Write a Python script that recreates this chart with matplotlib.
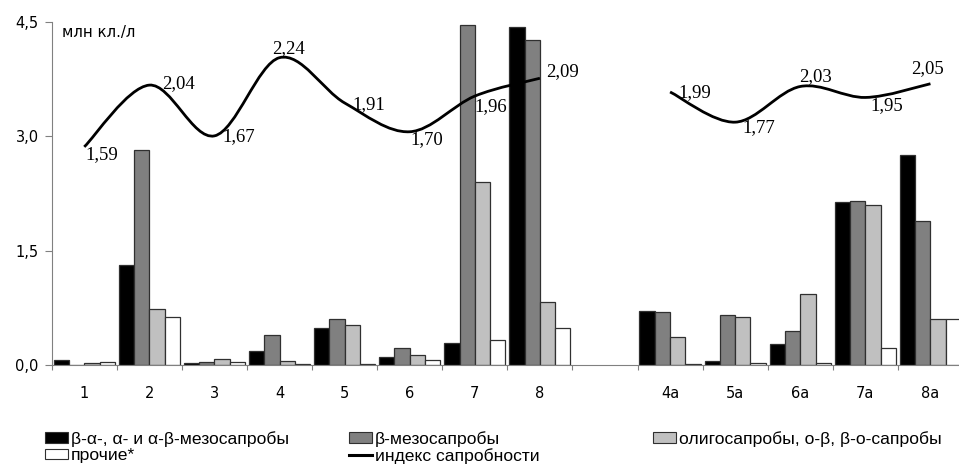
import matplotlib
matplotlib.use("Agg")
import matplotlib.pyplot as plt
from matplotlib.path import Path
from matplotlib.patches import PathPatch, Patch
from matplotlib.lines import Line2D
import numpy as np

# ---- data ----
categories = ["1", "2", "3", "4", "5", "6", "7", "8", "", "4а", "5а", "6а", "7а", "8а"]
meso_alpha = [0.07, 1.31, 0.03, 0.18, 0.49, 0.10, 0.29, 4.43, None, 0.71, 0.05, 0.28, 2.14, 2.75]
meso_beta = [0.00, 2.82, 0.04, 0.40, 0.61, 0.22, 4.46, 4.26, None, 0.69, 0.65, 0.44, 2.15, 1.89]
oligo = [0.03, 0.73, 0.08, 0.05, 0.52, 0.13, 2.40, 0.83, None, 0.37, 0.63, 0.93, 2.10, 0.61]
other = [0.04, 0.63, 0.04, 0.01, 0.01, 0.07, 0.33, 0.49, None, 0.01, 0.03, 0.03, 0.22, 0.61]
index_left = [1.59, 2.04, 1.67, 2.24, 1.91, 1.70, 1.96, 2.09]
index_right = [1.99, 1.77, 2.03, 1.95, 2.05]
yticks = [0.0, 1.5, 3.0, 4.5]
ytick_labels = ["0,0", "1,5", "3,0", "4,5"]
series_names = ["β-α-, α- и α-β-мезосапробы", "β-мезосапробы",
                "олигосапробы, о-β, β-о-сапробы", "прочие*", "индекс сапробности"]
unit_label = "млн кл./л"

# label offsets (pixels) for the index labels
label_offsets_left = [(18, -8), (29, 2), (24, -1), (9, 9), (24, -2), (17, -8), (16, -11), (23, 7)]
label_offsets_right = [(25, -1), (24, -5), (15, 10), (21, -8), (-3, 15)]

W, H = 959, 470
fig = plt.figure(figsize=(W / 100, H / 100), dpi=100)
ax_left, ax_right, ax_bot, ax_top = 51.7, 963.0, 365.0, 22.0
ax = fig.add_axes([ax_left / W, 1 - ax_bot / H, (ax_right - ax_left) / W, (ax_bot - ax_top) / H])
ax.set_xlim(0, len(categories))
ax.set_ylim(0, 4.5)

colors = ["#000000", "#808080", "#c0c0c0", "#ffffff"]
series = [meso_alpha, meso_beta, oligo, other]
bw = 0.235
for k, (vals, col) in enumerate(zip(series, colors)):
    xs, hs = [], []
    for i, v in enumerate(vals):
        if v is None:
            continue
        xs.append(i + 0.5 + (k - 1.5) * bw)
        hs.append(v)
    ax.bar(xs, hs, width=bw, color=col, edgecolor="#303030", linewidth=0.9, zorder=2)

spine_col = "#808080"
for s in ["top", "right"]:
    ax.spines[s].set_visible(False)
ax.spines["left"].set_color(spine_col)
ax.spines["bottom"].set_color(spine_col)
ax.set_yticks(yticks)
ax.set_yticklabels(ytick_labels, fontsize=10.5, family="DejaVu Sans")
ax.tick_params(axis="y", direction="out", length=4.8, width=0.8, color=spine_col, pad=4.5)
ax.set_xticks(np.arange(len(categories)) + 0.5)
ax.set_xticklabels(categories, fontsize=10.5, family="DejaVu Sans")
ax.tick_params(axis="x", which="major", length=0, pad=15)
ax.set_xticks(np.arange(len(categories) + 1), minor=True)
ax.tick_params(axis="x", which="minor", direction="out", length=3.8, width=0.8, color=spine_col)

ax.text(62 / W, 1 - 32 / H, unit_label, transform=fig.transFigure, fontsize=10.8,
        family="DejaVu Sans", va="center", ha="left")

# secondary (hidden) axis for saprobity index
ax2 = ax.twinx()
ax2.set_ylim(0, 2.5)
ax2.axis("off")


def smooth_path(xs, ys):
    pts = np.column_stack([xs, ys]).astype(float)
    n = len(pts)
    verts = [pts[0]]
    codes = [Path.MOVETO]
    for i in range(n - 1):
        p0 = pts[i - 1] if i > 0 else pts[i]
        p1 = pts[i]
        p2 = pts[i + 1]
        p3 = pts[i + 2] if i + 2 < n else pts[i + 1]
        c1 = p1 + (p2 - p0) / 6.0
        c2 = p2 - (p3 - p1) / 6.0
        verts += [c1, c2, p2]
        codes += [Path.CURVE4] * 3
    return Path(verts, codes)


xl = np.arange(len(index_left)) + 0.5
xr = np.arange(len(index_right)) + 9.5
for xs, ys, offs in [(xl, index_left, label_offsets_left), (xr, index_right, label_offsets_right)]:
    ax2.add_patch(PathPatch(smooth_path(xs, ys), fill=False, edgecolor="black",
                            linewidth=2.0, zorder=3, capstyle="butt"))
    for x, y, (dx, dy) in zip(xs, ys, offs):
        ax2.annotate(f"{y:.2f}".replace(".", ","), (x, y), xytext=(dx * 0.72, dy * 0.72),
                     textcoords="offset points", ha="center", va="center",
                     fontsize=13.5, family="Liberation Serif", zorder=4)

# legend (three columns)
handles = [Patch(facecolor=c, edgecolor="#303030", linewidth=0.8) for c in colors]
line_h = Line2D([], [], color="black", linewidth=2.2)
cols = [([handles[0], handles[3]], [series_names[0], series_names[3]], 45),
        ([handles[1], line_h], [series_names[1], series_names[4]], 349),
        ([handles[2]], [series_names[2]], 653)]
for hs, labs, xpix in cols:
    fig.legend(hs, labs, loc="upper left", bbox_to_anchor=(xpix / W, 1 - 431 / H),
               frameon=False, borderpad=0, borderaxespad=0, handlelength=1.33,
               handleheight=0.57, handletextpad=0.15, labelspacing=0.08,
               prop={"family": "Liberation Sans", "size": 12.6})

fig.savefig("out.png", dpi=100)
